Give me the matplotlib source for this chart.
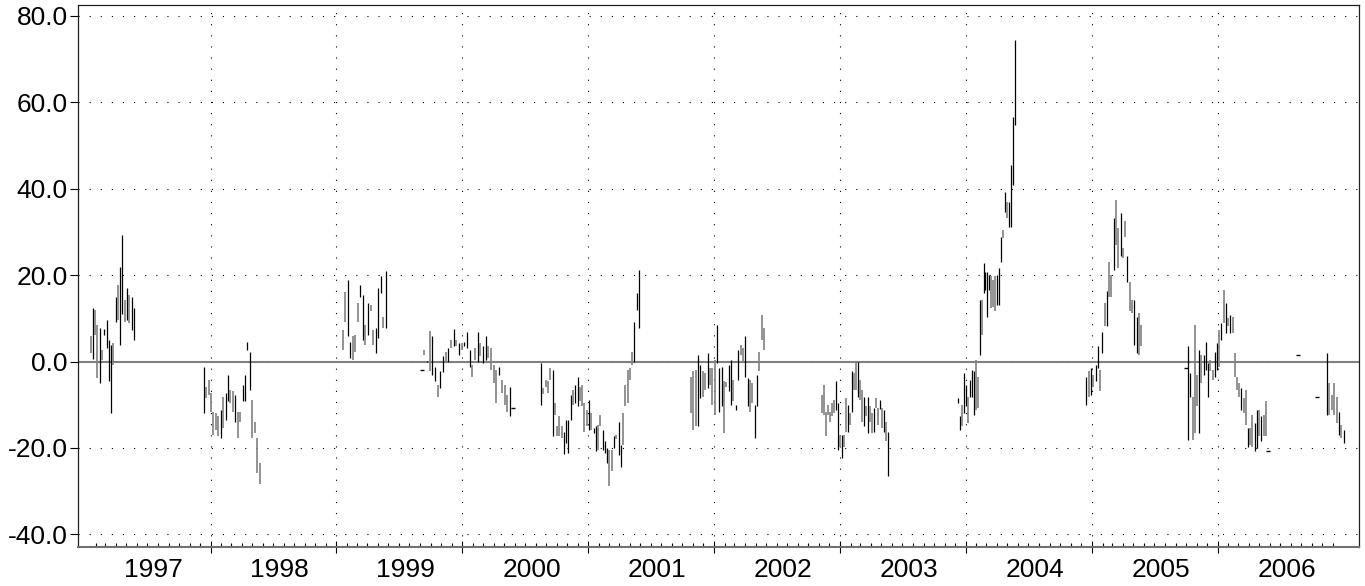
import numpy as np
import pandas as pd
import matplotlib
matplotlib.use("Agg")
import matplotlib.pyplot as plt
import matplotlib.dates as mdates
import matplotlib.ticker as plticker
import matplotlib.transforms as mtransforms

plt.rcParams['font.family'] = ['Liberation Sans', 'DejaVu Sans']
plt.rcParams['axes.unicode_minus'] = False

# each season: first bar date, last bar date, bar highs, bar lows, up-bar flags (1 = black, 0 = gray)
dates_97 = ('1997-01-18', '1997-05-23')
hi_97 = [5.9, 12.3, 11.9, 8.5, 7.7, 2.7, 7.5, 9.6, 5.0, 3.8, 4.2, 15.0, 17.7, 21.9, 29.3, 14.2, 17.0, 15.4, 15.0, 12.3]
lo_97 = [1.9, 0.5, 6.2, -3.8, -5.0, 0.4, 6.2, 3.1, -4.6, -11.8, -0.8, 9.2, 9.6, 3.8, 11.0, 9.2, 9.6, 8.8, 7.3, 5.0]
up_97 = [0, 1, 0, 0, 1, 0, 1, 1, 1, 1, 0, 1, 0, 1, 1, 0, 1, 0, 1, 1]

dates_98 = ('1997-12-12', '1998-05-23')
hi_98 = [-1.2, -5.8, -4.2, -7.3, -11.6, -12.0, -12.7, -11.2, -8.1, -7.3, -3.1, -6.5, -6.9, -7.7, -11.6, -11.6,
         -5.4, -3.1, 4.6, 2.3, -8.9, -13.9, -17.7, -23.5]
lo_98 = [-11.8, -8.5, -7.7, -11.6, -17.0, -15.8, -17.3, -17.7, -15.4, -13.5, -9.2, -9.6, -11.6, -13.9, -17.7, -13.9,
         -9.2, -9.2, 2.7, -6.5, -17.7, -16.6, -25.8, -28.3]
up_98 = [1, 0, 0, 0, 0, 0, 0, 1, 0, 1, 1, 0, 0, 1, 0, 0, 1, 1, 1, 1, 0, 0, 0, 0]

dates_99 = ('1999-01-19', '1999-05-24')
hi_99 = [7.3, 16.0, 18.9, 4.6, 5.8, 6.2, 13.5, 17.7, 15.4, 8.5, 13.5, 13.1, 7.3, 7.7, 17.0, 19.7, 10.4, 21.0]
lo_99 = [2.7, 9.2, 5.9, 0.8, 0.4, 2.3, 9.2, 15.0, 5.0, 3.9, 6.2, 11.6, 3.9, 1.9, 5.4, 15.8, 7.7, 7.7]
up_99 = [0, 0, 1, 1, 0, 0, 0, 1, 1, 0, 1, 0, 0, 1, 1, 1, 0, 1]

dates_00 = ('1999-09-05', '2000-05-26')
hi_00 = [-1.9, 2.7, 0.2, 7.1, 5.9, -1.2, -5.4, -2.3, 1.2, 2.3, 3.1, 5.0, 7.5, 5.0, 4.2, 4.2, 4.6, 6.9,
         2.7, -0.8, 3.1, 6.9, 4.2, 3.5, 5.8, 3.5, 3.1, -0.8, -1.9, -1.2, -4.2, -5.4, -7.7, -5.8, -10.8]
lo_00 = [-1.9, 1.5, -0.2, -2.3, -3.1, -4.6, -8.1, -6.2, -2.5, -0.4, 0.0, 3.1, 3.5, 3.5, 1.5, 2.7, 3.5, 3.1,
         -1.2, -3.5, 0.4, 0.0, 1.2, -0.4, 0.4, 0.8, -1.9, -5.0, -9.6, -3.1, -7.3, -10.0, -11.6, -12.7, -10.8]
up_00 = [1, 0, 1, 0, 1, 1, 0, 1, 1, 0, 1, 0, 1, 0, 1, 0, 1, 1,
         1, 0, 0, 1, 0, 1, 1, 0, 0, 0, 0, 1, 0, 0, 0, 1, 1]

dates_01 = ('2000-08-17', '2001-05-28')
hi_01 = [-0.4, -6.2, -4.2, -4.6, -1.5, -1.9, -9.6, -15.0, -12.7, -15.0, -16.2, -13.5, -13.5, -7.7, -6.6,
         -5.4, -3.5, -5.8, -5.4, -9.6, -11.2, -8.9, -12.0, -15.4, -15.0, -14.6, -12.3, -15.8, -18.5, -20.0,
         -20.4, -20.4, -17.3, -16.9, -13.9, -19.3, -12.0, -5.4, -1.9, -1.5, 2.3, 9.2, 15.8, 21.2]
lo_01 = [-10.0, -7.5, -5.8, -7.3, -4.2, -17.3, -12.3, -17.3, -17.3, -17.7, -21.3, -18.9, -21.1, -13.5, -10.0,
         -9.6, -10.4, -9.2, -10.4, -16.2, -15.0, -15.8, -15.8, -16.6, -20.8, -20.4, -15.0, -20.4, -21.1, -23.5,
         -28.9, -25.4, -20.0, -17.9, -21.6, -24.3, -19.3, -10.4, -9.6, -4.2, -0.8, 0.0, 11.9, 7.7]
up_01 = [1, 0, 0, 0, 0, 1, 0, 0, 0, 0, 1, 1, 1, 1, 0,
         1, 1, 0, 0, 0, 0, 1, 0, 1, 1, 0, 0, 1, 1, 1,
         0, 0, 1, 0, 1, 1, 0, 0, 0, 0, 0, 1, 1, 1]

dates_02 = ('2001-10-26', '2002-05-26')
hi_02 = [-3.5, -2.3, -1.9, 1.5, -0.8, -2.3, -2.7, 1.9, -1.5, -1.5, 0.4, 8.5, -1.5, -1.2, -4.6, -4.8,
         -0.8, 0.4, -4.2, -10.0, 2.7, 3.9, 3.1, 5.8, -3.9, -4.2, -5.0, -10.0, -3.1, 2.3, 10.8, 7.7]
lo_02 = [-11.9, -15.8, -15.0, -15.0, -8.5, -8.1, -6.6, -6.2, -5.4, -10.0, -12.3, -0.4, -11.6, -10.4, -16.6, -6.0,
         -6.9, -10.0, -9.2, -11.2, -4.2, 1.5, -0.4, -3.5, -10.4, -11.6, -9.6, -17.7, -10.4, -2.3, 5.0, 2.7]
up_02 = [0, 0, 0, 1, 1, 0, 0, 1, 0, 0, 0, 1, 1, 1, 0, 0,
         1, 1, 0, 1, 1, 0, 0, 1, 1, 0, 0, 1, 1, 0, 0, 0]

dates_03 = ('2002-11-09', '2003-05-20')
hi_03 = [-7.7, -5.4, -11.6, -10.0, -11.6, -9.6, -8.9, -4.6, -9.6, -17.0, -17.0, -17.0, -8.5, -10.0, -11.9, -2.3,
         -2.7, -0.4, 0.0, -4.2, -6.6, -8.1, -10.4, -8.1, -10.4, -11.9, -10.8, -8.5, -10.8, -9.0, -10.8, -11.2,
         -13.9, -16.2]
lo_03 = [-11.9, -12.3, -17.3, -12.3, -13.9, -12.7, -11.9, -11.2, -20.4, -19.7, -22.4, -19.7, -16.2, -16.2, -14.6,
         -11.6, -6.6, -6.6, -8.1, -8.9, -13.9, -15.0, -12.7, -16.6, -13.9, -16.6, -16.2, -10.8, -14.6, -11.0,
         -15.4, -16.2, -18.5, -26.5]
up_03 = [0, 0, 0, 0, 0, 0, 0, 1, 1, 0, 1, 0, 0, 1, 0, 1,
         0, 0, 1, 0, 0, 1, 0, 1, 0, 0, 1, 0, 0, 1, 0, 1,
         0, 1]

dates_04 = ('2003-12-10', '2004-05-22')
hi_04 = [-8.5, -12.7, -10.0, -2.7, -5.4, -8.1, -4.2, -1.9, -2.3, 0.4, -3.5, 14.3, 14.3, 22.7, 20.8,
         20.8, 20.0, 19.7, 18.9, 19.7, 20.0, 21.6, 28.9, 30.4, 39.3, 37.0, 37.0, 45.5, 56.6, 74.3]
lo_04 = [-9.6, -15.8, -15.0, -11.9, -10.4, -14.3, -8.1, -8.1, -12.3, -11.2, -10.8, 1.5, 6.2, 15.8, 16.6,
         10.4, 16.6, 12.3, 12.7, 11.6, 13.1, 13.1, 23.1, 28.5, 34.7, 33.1, 31.2, 31.2, 40.8, 54.7]
up_04 = [1, 1, 0, 1, 1, 0, 1, 1, 1, 0, 0, 1, 0, 1, 1,
         1, 1, 0, 0, 0, 1, 1, 1, 0, 1, 0, 1, 1, 1, 1]

dates_05 = ('2004-12-16', '2005-05-24')
hi_05 = [-3.5, -2.3, -1.5, -3.1, -0.8, 3.5, -1.9, 6.9, 13.5, 16.2, 23.1, 20.0, 33.1, 37.4, 30.8, 34.3,
         26.2, 32.4, 24.3, 18.5, 14.3, 14.3, 10.4, 11.2, 8.5]
lo_05 = [-10.0, -8.1, -7.7, -5.8, -4.6, -1.5, -6.9, 1.9, 8.1, 8.1, 15.0, 15.0, 21.2, 27.0, 21.6, 24.3,
         23.9, 28.9, 18.5, 11.6, 11.2, 3.9, 1.9, 1.5, 3.5]
up_05 = [1, 0, 1, 0, 1, 1, 0, 1, 0, 1, 0, 0, 1, 0, 0, 1,
         0, 0, 1, 0, 0, 1, 1, 0, 0]

dates_06 = ('2005-10-01', '2006-05-27')
hi_06 = [-1.5, 3.5, -2.7, -8.1, 8.5, -3.1, 2.7, 1.5, 1.5, 4.6, -0.4, 0.4, -1.9, 2.3, 4.2, 7.3, 8.9, 16.5,
         13.5, 10.0, 10.8, 10.4, 1.9, -3.5, -5.0, -6.2, -8.5, -6.6, -15.4, -15.4, -12.3, -14.3, -11.2,
         -11.2, -12.7, -12.3, -9.2, -20.8]
lo_06 = [-1.5, -18.1, -8.1, -18.1, -16.6, -10.4, -16.6, -5.0, -3.1, -1.9, -8.1, -2.3, -4.2, -3.5, -1.9, -1.2,
         5.0, 8.9, 6.6, 8.1, 6.6, 6.6, -3.5, -6.6, -8.1, -11.2, -12.0, -14.6, -19.7, -19.3, -19.7, -20.8,
         -20.0, -17.3, -18.5, -17.3, -17.3, -20.8]
up_06 = [1, 1, 1, 0, 0, 0, 1, 0, 1, 1, 1, 0, 0, 1, 1, 0, 1, 0,
         1, 0, 1, 0, 0, 0, 0, 1, 0, 0, 1, 0, 0, 1, 1,
         0, 1, 0, 0, 1]

# weekly bars, weeks without a quote left empty
dates_07 = ('2006-08-22', '2007-01-02')
hi_07 = [1.5, np.nan, np.nan, np.nan, np.nan, np.nan, np.nan, np.nan, -8.1, np.nan, np.nan, np.nan,
         1.9, -5.0, -7.7, -5.0, -8.1, -11.6, -14.6, -15.8]
lo_07 = [1.5, np.nan, np.nan, np.nan, np.nan, np.nan, np.nan, np.nan, -8.1, np.nan, np.nan, np.nan,
         -12.3, -12.3, -11.2, -12.3, -14.3, -17.0, -17.7, -18.9]
up_07 = [1, 0, 0, 0, 0, 0, 0, 0, 1, 0, 0, 0,
         1, 0, 0, 0, 0, 1, 0, 1]

seasons = [
    (dates_97, hi_97, lo_97, up_97),
    (dates_98, hi_98, lo_98, up_98),
    (dates_99, hi_99, lo_99, up_99),
    (dates_00, hi_00, lo_00, up_00),
    (dates_01, hi_01, lo_01, up_01),
    (dates_02, hi_02, lo_02, up_02),
    (dates_03, hi_03, lo_03, up_03),
    (dates_04, hi_04, lo_04, up_04),
    (dates_05, hi_05, lo_05, up_05),
    (dates_06, hi_06, lo_06, up_06),
    (dates_07, hi_07, lo_07, up_07),
]

years = list(range(1997, 2007))
ytick_vals = [-40, -20, 0, 20, 40, 60, 80]

frames = []
for (start, end), hi, lo, up in seasons:
    d = pd.DataFrame({'hi': hi, 'lo': lo, 'up': up})
    d['date'] = pd.date_range(start, end, periods=len(hi))
    frames.append(d)
df = pd.concat(frames, ignore_index=True).dropna()

fig = plt.figure(figsize=(13.65, 5.86), dpi=100)
ax = fig.add_axes([0.0571, 0.0674, 0.9385, 0.9246])

ax.axhline(0, color='#808080', lw=1.5, zorder=2)

x = mdates.date2num(df['date'])
cols = np.where(df['up'] == 1, 'black', '#808080')
lws = np.where(df['up'] == 1, 0.9, 1.2)
ax.vlines(x, df['lo'], df['hi'], colors=cols, linewidths=lws, zorder=3)
# single-price weeks show as a short dash
flat = (df['hi'] - df['lo']).abs() < 0.3
ax.plot(x[flat], df['hi'][flat], ls='none', marker='_', ms=3, mew=1, color='black', zorder=3)

ax.set_xlim(mdates.date2num(pd.Timestamp('1996-12-12')), mdates.date2num(pd.Timestamp('2007-02-15')))
ax.set_ylim(-42.8, 82.55)

ax.yaxis.set_major_locator(plticker.FixedLocator(ytick_vals))
ax.yaxis.set_major_formatter(plticker.FormatStrFormatter('%.1f'))
ax.tick_params(axis='y', direction='out', length=6, width=0.8, labelsize=19, pad=1.5)

year_lines = mdates.date2num(pd.date_range('1998-01-01', '2006-01-01', freq='YS'))
month_ticks = mdates.date2num(pd.date_range('1997-02-01', '2006-12-01', freq='MS'))
ax.xaxis.set_major_locator(plticker.FixedLocator(year_lines))
ax.xaxis.set_minor_locator(plticker.FixedLocator(month_ticks))
ax.xaxis.set_major_formatter(plticker.NullFormatter())
ax.tick_params(axis='x', which='major', direction='inout', length=8, width=0.8)
ax.tick_params(axis='x', which='minor', direction='in', length=3, width=0.8)

ax.grid(True, which='major', color='black', linestyle=(0, (1, 9)), lw=0.8)
ax.set_axisbelow(True)

for sp in ax.spines.values():
    sp.set_color('#202020')
    sp.set_linewidth(0.9)
ax.spines['bottom'].set_color('#707070')
ax.spines['bottom'].set_linewidth(1.5)

trans = mtransforms.blended_transform_factory(ax.transData, ax.transAxes)
for yr in years:
    ax.text(mdates.date2num(pd.Timestamp(f'{yr}-07-20')), -0.0425, str(yr),
            transform=trans, ha='center', va='center', fontsize=19)

fig.savefig('out.png', dpi=100)
